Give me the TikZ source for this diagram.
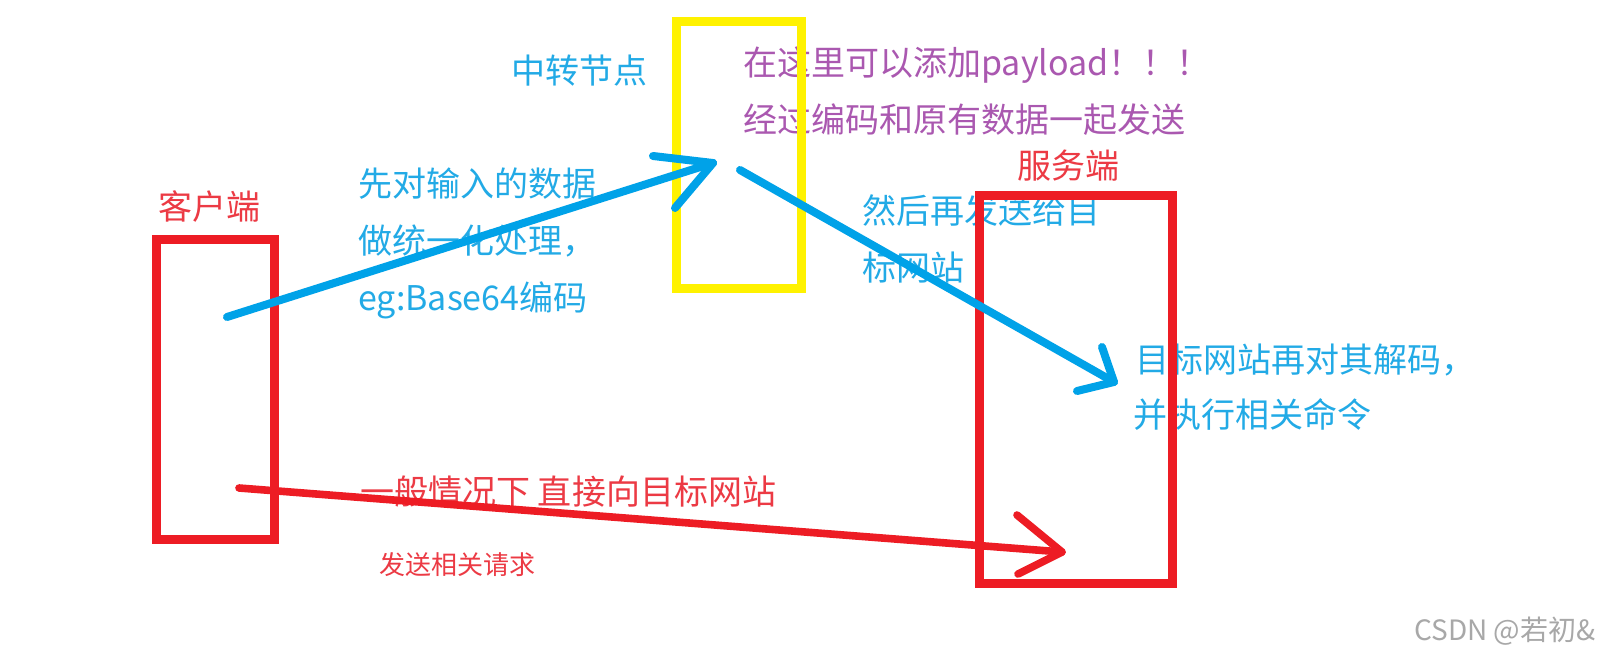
\documentclass[tikz,border=0pt]{standalone}
\usepackage{fontspec}
\newfontfamily\cjk{Noto Sans CJK SC}
\definecolor{pblue}{HTML}{00A2E8}
\definecolor{pred}{HTML}{ED1C24}
\definecolor{pyellow}{HTML}{FFF200}
\definecolor{tblue}{HTML}{22AAE6}
\definecolor{tred}{HTML}{EC3A44}
\definecolor{tpurple}{HTML}{AA58B0}
\definecolor{wgray}{HTML}{A8A8A8}
\begin{document}
\begin{tikzpicture}[x=0.5pt,y=-0.5pt,
  lbl/.style={anchor=base west, inner sep=0pt, font=\cjk\fontsize{17}{20}\selectfont},
  smalllbl/.style={anchor=base west, inner sep=0pt, font=\cjk\fontsize{13}{16}\selectfont},
  boxframe/.style={draw, line width=4.5pt, inner sep=0pt},
  bluearrow/.style={draw=pblue, line width=4pt, line cap=round, line join=round},
  redarrow/.style={draw=pred, line width=3.8pt, line cap=round, line join=round}]
\useasboundingbox (0,0) rectangle (1608,658);
\fill[white] (0,0) rectangle (1608,658);

% texts
\node[lbl, text=tred] (tclient) at (158,220) {客户端};
\node[lbl, text=tblue] (trelay) at (511,84) {中转节点};
\node[lbl, text=tpurple] (tp1) at (743,76) {在这里可以添加payload！！！};
\node[lbl, text=tpurple] (tp2) at (743,133) {经过编码和原有数据一起发送};
\node[lbl, text=tred] (tserver) at (1017,178) {服务端};
\node[lbl, text=tblue] (tb1) at (358,197) {先对输入的数据};
\node[lbl, text=tblue] (tb2) at (358,253) {做统一化处理，};
\node[lbl, text=tblue] (tb3) at (358,310) {eg:Base64编码};
\node[lbl, text=tblue] (tc1) at (862,224) {然后再发送给目};
\node[lbl, text=tblue] (tc2) at (862,280) {标网站};
\node[lbl, text=tblue] (td1) at (1135,372) {目标网站再对其解码，};
\node[lbl, text=tblue] (td2) at (1133,427) {并执行相关命令};
\node[lbl, text=tred] (tr1) at (360,504) {一般情况下 直接向目标网站};
\node[smalllbl, text=tred] (tr2) at (379,574) {发送相关请求};
\node[anchor=base west, inner sep=0pt, text=wgray, font=\cjk\fontsize{14}{16}\selectfont] (wm) at (1414,640) {CSDN @若初\&};

% boxes
\node[boxframe, draw=pred, minimum width=59pt, minimum height=150pt] (client) at (215.5,389.5) {};
\node[boxframe, draw=pyellow, minimum width=62.5pt, minimum height=133.5pt] (relay) at (739,155) {};
\node[boxframe, draw=pred, minimum width=96.5pt, minimum height=194pt] (server) at (1076,389.5) {};

% arrow 1: client -> relay
\coordinate (a1s) at (227,317);
\coordinate (a1t) at (713,163);
\coordinate (a1u) at (653,156);
\coordinate (a1l) at (675,208);
\draw[bluearrow] (a1s) -- (a1t);
\draw[bluearrow] (a1u) -- (a1t) -- (a1l);

% arrow 2: relay -> server
\coordinate (a2s) at (740,170);
\coordinate (a2t) at (1114,382);
\coordinate (a2u) at (1102,347);
\coordinate (a2l) at (1077,391);
\draw[bluearrow] (a2s) -- (a2t);
\draw[bluearrow] (a2u) -- (a2t) -- (a2l);

% arrow 3: client -> server (direct)
\coordinate (a3s) at (239,488);
\coordinate (a3t) at (1062,552);
\coordinate (a3u) at (1017,515);
\coordinate (a3l) at (1018,574);
\draw[redarrow] (a3s) -- (a3t);
\draw[redarrow] (a3u) -- (a3t) -- (a3l);
\end{tikzpicture}
\end{document}
